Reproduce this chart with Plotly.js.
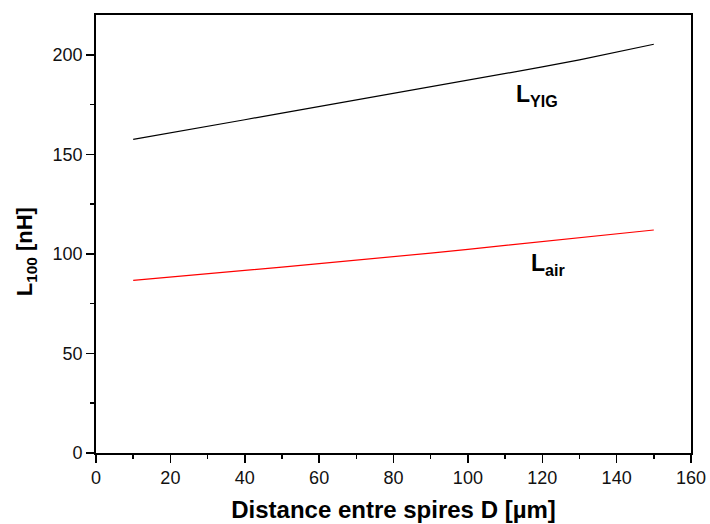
<!DOCTYPE html>
<html>
<head>
<meta charset="utf-8">
<script src="https://cdn.plot.ly/plotly-3.0.1.min.js"></script>
<style>html,body{margin:0;padding:0;background:#fff;}#chart{width:710px;height:524px;}</style>
</head>
<body>
<div id="chart"></div>
<script>
const distance = [10, 20, 30, 40, 50, 60, 70, 80, 90, 100, 110, 120, 130, 140, 150];
const L_YIG = [157.5, 160.7, 164.0, 167.4, 170.7, 174.0, 177.3, 180.6, 183.8, 187.1, 190.4, 193.9, 197.5, 201.3, 205.3];
const L_air = [86.7, 88.3, 90.0, 91.7, 93.4, 95.1, 96.8, 98.6, 100.4, 102.3, 104.2, 106.1, 108.0, 110.0, 112.0];
const xTitle = "Distance entre spires D [µm]";
const yTitle = "L<sub>100</sub> [nH]";
const labelYIG = "L<sub>YIG</sub>";
const labelAir = "L<sub>air</sub>";

const font = "Arial, 'Liberation Sans', sans-serif";
const axisCommon = {
  showline: true, linecolor: "black", linewidth: 1.8, mirror: true,
  ticks: "outside", ticklen: 8, tickwidth: 1.5, tickcolor: "black",
  showgrid: false, zeroline: false,
  tickfont: {family: font, size: 18, color: "#111"},
};

const traces = [
  {x: distance, y: L_YIG, type: "scatter", mode: "lines", line: {color: "black", width: 1.2}, showlegend: false},
  {x: distance, y: L_air, type: "scatter", mode: "lines", line: {color: "red", width: 1.2}, showlegend: false}
];

const layout = {
  width: 710, height: 524,
  margin: {l: 96, r: 19, t: 15, b: 71},
  paper_bgcolor: "white", plot_bgcolor: "white",
  xaxis: Object.assign({}, axisCommon, {
    range: [0, 160], dtick: 20, tick0: 0,
    minor: {dtick: 10, ticks: "outside", ticklen: 4, tickwidth: 1.5, tickcolor: "black"},
    title: {text: "<b>" + xTitle + "</b>", font: {family: font, size: 24, color: "black"}, standoff: 14}
  }),
  yaxis: Object.assign({}, axisCommon, {
    range: [0, 220], dtick: 50, tick0: 0,
    minor: {dtick: 25, ticks: "outside", ticklen: 4, tickwidth: 1.5, tickcolor: "black"}
  }),
  annotations: [
    {text: "<b>" + yTitle + "</b>", xref: "paper", yref: "paper", x: -0.118, y: 0.46,
     textangle: -90, showarrow: false, xanchor: "center", yanchor: "middle",
     font: {family: font, size: 22, color: "black"}},
    {text: "<b>" + labelYIG + "</b>", xref: "x", yref: "y", x: 112.5, y: 179.5,
     showarrow: false, xanchor: "left", yanchor: "middle",
     font: {family: font, size: 23, color: "black"}},
    {text: "<b>" + labelAir + "</b>", xref: "x", yref: "y", x: 116.5, y: 94.5,
     showarrow: false, xanchor: "left", yanchor: "middle",
     font: {family: font, size: 23, color: "black"}}
  ]
};

Plotly.newPlot("chart", traces, layout, {displayModeBar: false, staticPlot: true});
</script>
</body>
</html>
